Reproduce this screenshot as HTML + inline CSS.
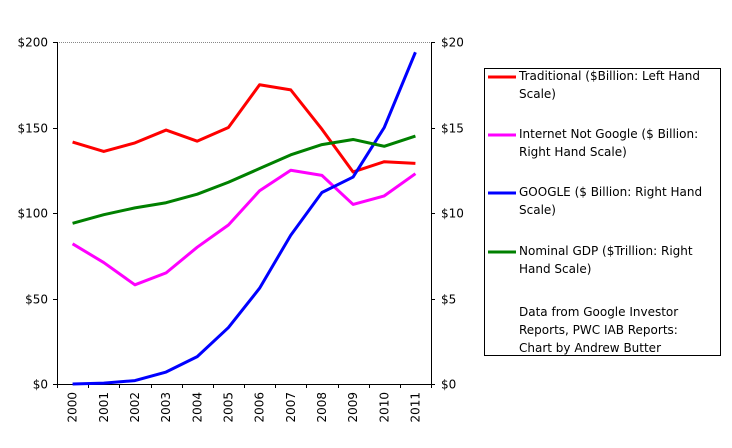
<!DOCTYPE html>
<html><head><meta charset="utf-8"><style>
body{margin:0;background:#fff;width:732px;height:444px;overflow:hidden;font-family:"Comic Sans MS","DejaVu Sans","Liberation Sans",sans-serif}
svg text{font-family:"Comic Sans MS","DejaVu Sans","Liberation Sans",sans-serif;font-size:12px;fill:#000}
</style></head><body>
<svg id="chart" width="732" height="444">
<g id="axes"></g><g id="series"></g>
<g>
<rect x="484.5" y="68.5" width="236" height="287" fill="#fff" stroke="#000"/>
<g id="legend"></g>
</g>
</svg>
<script>
const years=["2000","2001","2002","2003","2004","2005","2006","2007","2008","2009","2010","2011"];
const traditional=[141.5,136,141,148.5,142,150,175,172,149,124,130,129];
const internetNotGoogle=[8.2,7.1,5.8,6.5,8.0,9.3,11.3,12.5,12.2,10.5,11.0,12.3];
const google=[0.0,0.05,0.2,0.7,1.6,3.3,5.6,8.7,11.2,12.1,15.0,19.4];
const gdp=[9.4,9.9,10.3,10.6,11.1,11.8,12.6,13.4,14.0,14.3,13.9,14.5];
const leftTicks=[0,50,100,150,200];
const rightTicks=[0,5,10,15,20];
const L=57,R=431,T=42,B=384;
const ns="http://www.w3.org/2000/svg";
function mk(t,a,p){const e=document.createElementNS(ns,t);for(const k in a)e.setAttribute(k,a[k]);p.appendChild(e);return e;}
const xs=i=>L+(R-L)/years.length*(i+0.5);
const yl=v=>B-(v/200)*(B-T);
const yr=v=>B-(v/20)*(B-T);
const ax=document.getElementById('axes');
let g=mk('line',{x1:L,y1:T+0.5,x2:R,y2:T+0.5,stroke:'#888','stroke-dasharray':'1,1'},ax);


let a=mk('line',{x1:L+0.5,y1:T,x2:L+0.5,y2:B,stroke:'#000'},ax);


a=mk('line',{x1:R+0.5,y1:T,x2:R+0.5,y2:B,stroke:'#000'},ax);


a=mk('line',{x1:L,y1:B+0.5,x2:R,y2:B+0.5,stroke:'#000'},ax);


leftTicks.forEach(v=>{const y=Math.round(yl(v))+0.5;mk('line',{x1:L-4,y1:y,x2:L,y2:y,stroke:'#000'},ax);
const t=mk('text',{x:L-9,y:y+4,'text-anchor':'end'},ax);t.textContent='$'+v;

});
rightTicks.forEach(v=>{const y=Math.round(yr(v))+0.5;mk('line',{x1:R,y1:y,x2:R+4,y2:y,stroke:'#000'},ax);
const t=mk('text',{x:R+10,y:y+4},ax);t.textContent='$'+v;

});
for(let i=0;i<=years.length;i++){const x=Math.round(L+(R-L)/years.length*i)+0.5;mk('line',{x1:x,y1:B,x2:x,y2:B+4,stroke:'#000'},ax);}
years.forEach((yv,i)=>{const x=xs(i)+4;const t=mk('text',{x:x,y:B+8,transform:`rotate(-90 ${x} ${B+8})`,'text-anchor':'end'},ax);t.textContent=yv;

});
const sg=document.getElementById('series');
function line(arr,sc,col,name){const p=mk('polyline',{points:arr.map((v,i)=>xs(i)+','+sc(v)).join(' '),fill:'none',stroke:col,'stroke-width':3,'stroke-linejoin':'round'},sg);

}
line(traditional,yl,'#ff0000','traditional-line');
line(internetNotGoogle,yr,'#ff00ff','internet-not-google-line');
line(google,yr,'#0000ff','google-line');
line(gdp,yr,'#008000','gdp-line');
const lg=document.getElementById('legend');
const items=[['#ff0000',['Traditional ($Billion: Left Hand','Scale)'],80],['#ff00ff',['Internet Not Google ($ Billion:','Right Hand Scale)'],138],['#0000ff',['GOOGLE ($ Billion: Right Hand','Scale)'],196],['#008000',['Nominal GDP ($Trillion: Right','Hand Scale)'],255]];
items.forEach(it=>{const s=mk('line',{x1:488,y1:it[2]-3,x2:516,y2:it[2]-3,stroke:it[0],'stroke-width':3},lg);


it[1].forEach((tx,j)=>{const t=mk('text',{x:519,y:it[2]+j*18},lg);t.textContent=tx;

});});
['Data from Google Investor','Reports, PWC IAB Reports:','Chart by Andrew Butter'].forEach((tx,j)=>{const t=mk('text',{x:519,y:316+j*18},lg);t.textContent=tx;

});
</script>
</body></html>
